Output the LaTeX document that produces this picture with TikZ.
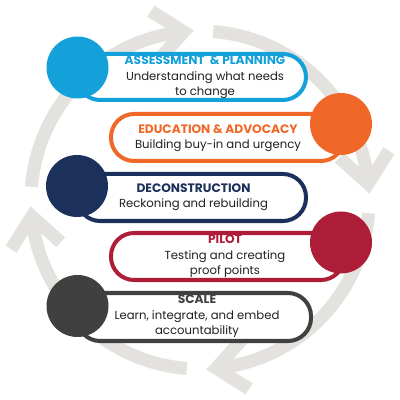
\documentclass[tikz,border=0pt]{standalone}
\usepackage{fontspec}
\setmainfont{Poppins}
\usetikzlibrary{calc}
\definecolor{apblue}{RGB}{20,160,216}
\definecolor{eaorange}{RGB}{240,104,40}
\definecolor{dcnavy}{RGB}{27,48,90}
\definecolor{plred}{RGB}{174,29,55}
\definecolor{scgray}{RGB}{64,64,64}
\definecolor{ringgray}{RGB}{228,226,222}
\definecolor{inkblack}{RGB}{35,31,32}
\newcommand{\steptitle}[2]{{\fontsize{8.7}{11.5}\selectfont\bfseries\color{#1}#2}}
\begin{document}
\begin{tikzpicture}[x=0.025cm,y=0.025cm,
  ring/.style={draw=ringgray,line width=9.25pt},
  pill/.style={draw=#1,fill=white,line width=2.85pt,rounded corners=16.4pt},
  lbl/.style={align=center,text=inkblack,font=\fontsize{8.3}{11}\selectfont}]
\useasboundingbox (0,0) rectangle (400,400);
\coordinate (O) at (200,200);
% ring of arrows
\foreach \a in {90,0,-90,180}{
  \draw[ring] ($(O)+({\a+85.5}:169)$) arc[start angle=\a+85.5, end angle=\a+5.5, radius=169];
  \coordinate (t) at ($(O)+({\a+5.5}:169)$);
  \draw[ring,line join=miter] ($(t)+({\a+138}:39)$) -- (t) -- ($(t)+({\a+58}:39)$);
}
% pills
\draw[pill=apblue] (77,300) rectangle (306,346);
\draw[pill=eaorange] (111,239) rectangle (344,286);
\draw[pill=dcnavy] (77,179) rectangle (306,226);
\draw[pill=plred] (111,120) rectangle (344,167);
\draw[pill=scgray] (77,59) rectangle (311,107);
% dots
\fill[apblue] (77.5,332.5) circle (31);
\fill[eaorange] (341,276) circle (31);
\fill[dcnavy] (77,214) circle (31);
\fill[plred] (341,157.5) circle (31);
\fill[scgray] (77.5,94) circle (31);
% labels
\node[lbl] (ap) at (205,322.5) {\steptitle{apblue}{ASSESSMENT\ \ \& PLANNING}\\Understanding what needs\\to change};
\node[lbl] (ea) at (218,262) {\steptitle{eaorange}{EDUCATION \& ADVOCACY}\\Building buy-in and urgency};
\node[lbl] (dc) at (193.5,203) {\steptitle{dcnavy}{DECONSTRUCTION}\\Reckoning and rebuilding};
\node[lbl] (pl) at (225,143.5) {\steptitle{plred}{PILOT}\\Testing and creating\\proof points};
\node[lbl] (sc) at (197,83.5) {\steptitle{scgray}{SCALE}\\Learn, integrate, and embed\\accountability};
\end{tikzpicture}
\end{document}
